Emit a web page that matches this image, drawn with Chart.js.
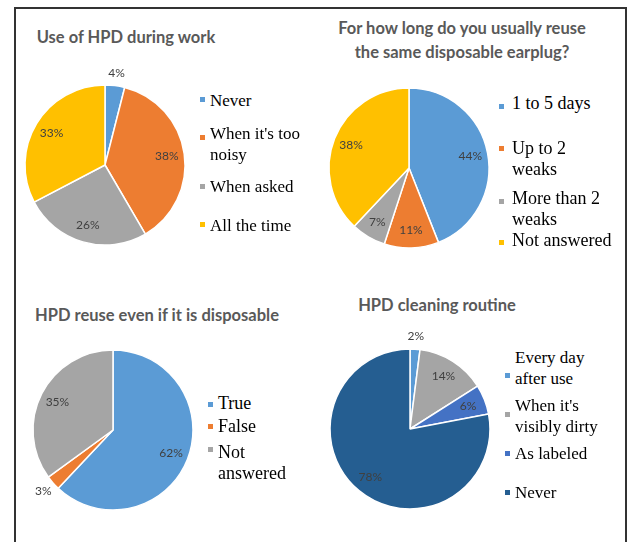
<!DOCTYPE html>
<html>
<head>
<meta charset="utf-8">
<script src="https://cdn.jsdelivr.net/npm/chart.js@4.4.1/dist/chart.umd.min.js"></script>
<style>
  body { margin: 0; background: #fff; width: 627px; height: 542px; overflow: hidden; position: relative; font-family: "Liberation Serif", serif; }
  #frame { position: absolute; left: 14px; top: 7px; width: 613px; height: 600px; border: 2px solid #333; border-bottom: none; box-sizing: border-box; }
  canvas { position: absolute; }
  .title { position: absolute; width: 400px; font-family: Lato, sans-serif; font-weight: bold; font-size: 16.5px; color: #595959; text-align: center; white-space: nowrap; line-height: 24px; }
  .item { position: absolute; line-height: 21px; color: #000; white-space: nowrap; }
  .mark { position: absolute; width: 5px; height: 5px; }
</style>
</head>
<body>
<div id="frame"></div>
<canvas id="work" width="200" height="200" style="left:5px;top:65px"></canvas>
<canvas id="duration" width="200" height="200" style="left:309px;top:68px"></canvas>
<canvas id="reuse" width="200" height="200" style="left:13px;top:330px"></canvas>
<canvas id="cleaning" width="200" height="200" style="left:310px;top:329px"></canvas>
<script>
const workTitle = ["Use of HPD during work"];
const workLabels = [["Never"], ["When it's too", "noisy"], ["When asked"], ["All the time"]];
const workValues = [4, 38, 26, 33];
const workColors = ["#5B9BD5", "#ED7D31", "#A5A5A5", "#FFC000"];

const durationTitle = ["For how long do you usually reuse", "the same disposable earplug?"];
const durationLabels = [["1 to 5 days"], ["Up to 2", "weaks"], ["More than 2", "weaks"], ["Not answered"]];
const durationValues = [44, 11, 7, 38];
const durationColors = ["#5B9BD5", "#ED7D31", "#A5A5A5", "#FFC000"];

const reuseTitle = ["HPD reuse even if it is disposable"];
const reuseLabels = [["True"], ["False"], ["Not", "answered"]];
const reuseValues = [62, 3, 35];
const reuseColors = ["#5B9BD5", "#ED7D31", "#A5A5A5"];

const cleaningTitle = ["HPD cleaning routine"];
const cleaningLabels = [["Every day", "after use"], ["When it's", "visibly dirty"], ["As labeled"], ["Never"]];
const cleaningValues = [2, 14, 6, 78];
const cleaningColors = ["#5B9BD5", "#A5A5A5", "#4472C4", "#255E91"];

// percent labels placed from each arc element
const sliceLabels = {
  id: "sliceLabels",
  afterDatasetsDraw(chart) {
    const ctx = chart.ctx;
    const meta = chart.getDatasetMeta(0);
    const values = chart.data.datasets[0].data;
    const total = values.reduce((a, b) => a + b, 0);
    ctx.save();
    ctx.font = "12px Lato, sans-serif";
    ctx.fillStyle = "#404040";
    ctx.textAlign = "center";
    ctx.textBaseline = "middle";
    meta.data.forEach((arc, i) => {
      const p = arc.getProps(["x", "y", "startAngle", "endAngle", "outerRadius"], true);
      const mid = (p.startAngle + p.endAngle) / 2;
      const d = values[i] / total < 0.05 ? p.outerRadius + 13 : p.outerRadius * 0.78;
      ctx.fillText(values[i] + "%", p.x + Math.cos(mid) * d, p.y + Math.sin(mid) * d);
    });
    ctx.restore();
  }
};

function makePie(id, labels, values, colors) {
  new Chart(document.getElementById(id), {
    type: "pie",
    data: {
      labels: labels,
      datasets: [{
        data: values,
        backgroundColor: colors,
        borderColor: "#fff",
        borderWidth: 1.5,
        radius: 80
      }]
    },
    options: {
      responsive: false,
      animation: false,
      plugins: { legend: { display: false }, tooltip: { enabled: false } }
    },
    plugins: [sliceLabels]
  });
}

function addTitle(lines, cx, top) {
  const el = document.createElement("div");
  el.className = "title";
  el.style.left = (cx - 200) + "px";
  el.style.top = top + "px";
  el.innerHTML = lines.join("<br>");
  document.body.appendChild(el);
}

function addLegend(labels, colors, size, textX, markX, lineYs, markYs) {
  labels.forEach((lines, i) => {
    const it = document.createElement("div");
    it.className = "item";
    it.style.fontSize = size + "px";
    it.style.left = textX + "px";
    it.style.top = (lineYs[i] - 10.5) + "px";
    it.innerHTML = lines.join("<br>");
    document.body.appendChild(it);
    const m = document.createElement("div");
    m.className = "mark";
    m.style.background = colors[i];
    m.style.left = (markX - 2.5) + "px";
    m.style.top = (markYs[i] - 2.5) + "px";
    document.body.appendChild(m);
  });
}

makePie("work", workLabels, workValues, workColors);
makePie("duration", durationLabels, durationValues, durationColors);
makePie("reuse", reuseLabels, reuseValues, reuseColors);
makePie("cleaning", cleaningLabels, cleaningValues, cleaningColors);

addTitle(workTitle, 126, 25);
addTitle(durationTitle, 462, 16);
addTitle(reuseTitle, 157, 303);
addTitle(cleaningTitle, 437, 293);

addLegend(workLabels, workColors, 17, 210, 202, [100, 133, 186, 225], [99, 137, 186, 224]);
addLegend(durationLabels, durationColors, 18, 512, 501, [103, 148, 198, 240], [106, 148, 201, 242]);
addLegend(reuseLabels, reuseColors, 18, 218, 210, [403, 426, 452], [404, 426, 449]);
addLegend(cleaningLabels, cleaningColors, 17, 515, 507, [357, 405, 453, 492], [375, 414, 453, 492]);
</script>
</body>
</html>
